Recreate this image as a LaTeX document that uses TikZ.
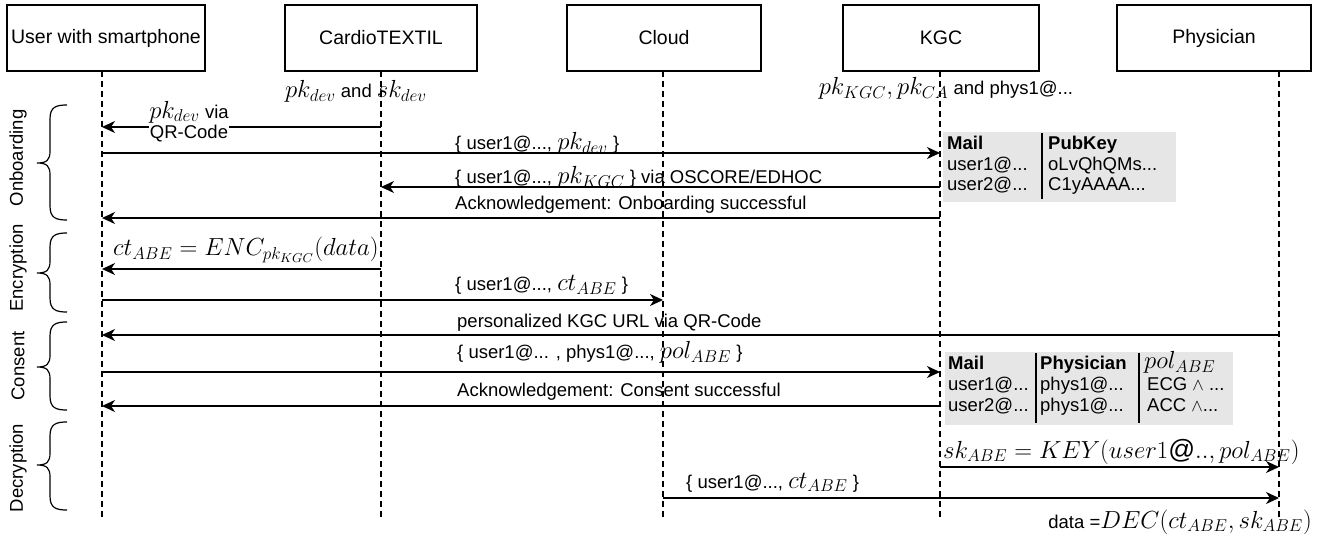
\documentclass[tikz,border=0pt]{standalone}
\usepackage{graphicx}
\usepackage{fontspec}
\setmainfont{Liberation Sans}
\usetikzlibrary{arrows.meta}
\definecolor{tblgray}{HTML}{E6E6E6}
\newcommand{\mth}[1]{\scalebox{1.43}{$#1$}}
\newcommand{\lbrc}[3]{%
  \draw[brc] (67,#1) .. controls (56,#1) and (50,#1+2) .. (50,#1+14)
    -- (50,#2-12) .. controls (50,#2-3) and (47,#2) .. (37,#2)
    .. controls (47,#2) and (50,#2+3) .. (50,#2+12)
    -- (50,#3-14) .. controls (50,#3-2) and (56,#3) .. (67,#3);}
\begin{document}
\begin{tikzpicture}[x=1pt,y=-1pt,
  font=\fontsize{18.5}{22}\selectfont,
  actor/.style={draw,line width=1.2pt,minimum height=66pt,inner sep=0pt,font=\fontsize{19.5}{23}\selectfont},
  life/.style={line width=1.2pt,dash pattern=on 6pt off 4pt},
  msg/.style={line width=1.3pt,-{Stealth[length=13pt,width=12pt,inset=4pt]}},
  lbl/.style={anchor=base west,inner sep=0pt},
  brc/.style={line width=1.2pt},
  phase/.style={rotate=90,inner sep=0pt},
  cell/.style={anchor=base west,inner sep=0pt},
  hdr/.style={cell,font=\fontsize{18.5}{22}\selectfont\bfseries},
  sep/.style={line width=1.2pt},
]
\useasboundingbox (0,0) rectangle (1326,537);

% actors
\node[actor,minimum width=198pt] (user) at (106,38) {User with smartphone};
\node[actor,minimum width=192pt] (cardio) at (381,38) {CardioTEXTIL};
\node[actor,minimum width=194pt] (cloud) at (664,38) {Cloud};
\node[actor,minimum width=196pt] (kgc) at (941,38) {KGC};
\node[actor,minimum width=194pt] (phys) at (1214,38) {Physician};

% lifelines
\coordinate (uT) at (102,71);  \coordinate (uB) at (102,518);
\coordinate (cT) at (381,71);  \coordinate (cB) at (381,518);
\coordinate (dT) at (663,71);  \coordinate (dB) at (663,518);
\coordinate (kT) at (940,71);  \coordinate (kB) at (940,518);
\coordinate (pT) at (1279,71); \coordinate (pB) at (1279,518);
\draw[life] (uT) -- (uB);
\draw[life] (cT) -- (cB);
\draw[life] (dT) -- (dB);
\draw[life] (kT) -- (kB);
\draw[life] (pT) -- (pB);

% top annotations
\node[anchor=base,inner sep=0pt] (keysdev) at (356,98) {\mth{pk_{dev}} and \mth{sk_{dev}}};
\node[anchor=base,inner sep=0pt] (keyskgc) at (946,95) {\mth{pk_{KGC}, pk_{CA}} and phys1@...};

% phase braces
\lbrc{105}{163}{220}
\lbrc{233}{273}{312}
\lbrc{322}{367}{410}
\lbrc{422}{465}{510}
\node[phase] (ph1) at (18,158) {Onboarding};
\node[phase] (ph2) at (18,268) {Encryption};
\node[phase] (ph3) at (18,366) {Consent};
\node[phase] (ph4) at (18,468) {Decryption};

% messages
\coordinate (m1a) at (381,127);  \coordinate (m1b) at (102,127);
\coordinate (m2a) at (102,153);  \coordinate (m2b) at (940,153);
\coordinate (m3a) at (940,187);  \coordinate (m3b) at (381,187);
\coordinate (m4a) at (940,218);  \coordinate (m4b) at (102,218);
\coordinate (m5a) at (381,269);  \coordinate (m5b) at (102,269);
\coordinate (m6a) at (102,300);  \coordinate (m6b) at (663,300);
\coordinate (m7a) at (1279,335); \coordinate (m7b) at (102,335);
\coordinate (m8a) at (102,372);  \coordinate (m8b) at (940,372);
\coordinate (m9a) at (940,406);  \coordinate (m9b) at (102,406);
\coordinate (m10a) at (940,467); \coordinate (m10b) at (1279,467);
\coordinate (m11a) at (663,498); \coordinate (m11b) at (1279,498);

\draw[msg] (m1a) -- (m1b);
\draw[msg] (m2a) -- (m2b);
\draw[msg] (m3a) -- (m3b);
\draw[msg] (m4a) -- (m4b);
\draw[msg] (m5a) -- (m5b);
\draw[msg] (m6a) -- (m6b);
\draw[msg] (m7a) -- (m7b);
\draw[msg] (m8a) -- (m8b);
\draw[msg] (m9a) -- (m9b);
\draw[msg] (m10a) -- (m10b);
\draw[msg] (m11a) -- (m11b);

% message labels
\node[fill=white,inner sep=1pt] (l1a) at (189,112) {\mth{pk_{dev}} via};
\node[fill=white,inner sep=1pt,minimum height=20pt] (l1b) at (189,134) {QR-Code};
\node[lbl] (l2) at (455,150) {\{ user1@..., \mth{pk_{dev}} \}};
\node[lbl] (l3) at (455,184) {\{ user1@..., \mth{pk_{KGC}} \} via OSCORE/EDHOC};
\node[lbl] (l4) at (455,210) {Acknowledgement: Onboarding successful};
\node[lbl] (l5) at (113,256) {\mth{ct_{ABE} = ENC_{pk_{KGC}}(data)}};
\node[lbl] (l6) at (455,291) {\{ user1@..., \mth{ct_{ABE}} \}};
\node[lbl] (l7) at (457,328) {personalized KGC URL via QR-Code};
\node[lbl] (l8) at (457,359) {\{ user1@... , phys1@..., \mth{pol_{ABE}} \}};
\node[lbl] (l9) at (457,396) {Acknowledgement: Consent successful};
\node[lbl] (l10) at (943,458) {\mth{sk_{ABE} = KEY(user1@..,pol_{ABE})}};
\node[lbl] (l11) at (686,488) {\{ user1@..., \mth{ct_{ABE}} \}};
\node[anchor=base east,inner sep=0pt] (l12) at (1312,528) {data =\mth{DEC(ct_{ABE}, sk_{ABE})}};

% onboarding table
\fill[tblgray] (943,132) rectangle (1176,202);
\coordinate (s1a) at (1042,133); \coordinate (s1b) at (1042,199);
\draw[sep] (s1a) -- (s1b);
\node[hdr] (t1h1) at (947,150) {Mail};
\node[hdr] (t1h2) at (1048,150) {PubKey};
\node[cell] (t1a1) at (947,170.5) {user1@...};
\node[cell] (t1a2) at (1048,170.5) {oLvQhQMs...};
\node[cell] (t1b1) at (947,191) {user2@...};
\node[cell] (t1b2) at (1048,191) {C1yAAAA...};

% consent table
\fill[tblgray] (945,352) rectangle (1233,425);
\coordinate (s2a) at (1036,353); \coordinate (s2b) at (1036,423);
\coordinate (s3a) at (1139,353); \coordinate (s3b) at (1139,423);
\draw[sep] (s2a) -- (s2b);
\draw[sep] (s3a) -- (s3b);
\node[hdr] (t2h1) at (948,370) {Mail};
\node[hdr] (t2h2) at (1040,370) {Physician};
\node[cell] (t2h3) at (1144,369) {\mth{pol_{ABE}}};
\node[cell] (t2a1) at (948,390.5) {user1@...};
\node[cell] (t2a2) at (1040,390.5) {phys1@...};
\node[cell] (t2a3) at (1147,390.5) {ECG $\wedge$ ...};
\node[cell] (t2b1) at (948,411) {user2@...};
\node[cell] (t2b2) at (1040,411) {phys1@...};
\node[cell] (t2b3) at (1147,411) {ACC $\wedge$...};
\end{tikzpicture}
\end{document}
